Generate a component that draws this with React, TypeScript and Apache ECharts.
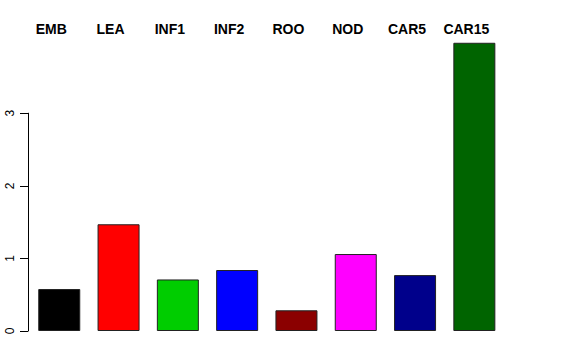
import React, { useEffect, useRef } from "react";
import * as echarts from "echarts";

const categories = ["EMB", "LEA", "INF1", "INF2", "ROO", "NOD", "CAR5", "CAR15"];
const values = [0.578, 1.47, 0.71, 0.84, 0.285, 1.06, 0.77, 3.97];
const colors = ["#000000", "#FF0000", "#00CD00", "#0000FF", "#8B0000", "#FF00FF", "#00008B", "#006400"];
const yTicks = [0, 1, 2, 3];

export default function App() {
  const ref = useRef<HTMLDivElement>(null);
  useEffect(() => {
    if (!ref.current) return;
    const chart = echarts.init(ref.current, undefined, { renderer: "svg" });
    const font = "'Liberation Sans', Arial, Helvetica, sans-serif";
    chart.setOption({
      animation: false,
      backgroundColor: "#ffffff",
      grid: [
        { left: 29.6, right: 72, top: 40.6, bottom: 29 },
        { left: 28, width: 1, top: 113.2, bottom: 29 },
      ],
      xAxis: [
        {
          type: "category",
          gridIndex: 0,
          position: "top",
          data: categories,
          axisLine: { show: false },
          axisTick: { show: false },
          axisLabel: {
            interval: 0,
            hideOverlap: false,
            margin: 5,
            fontFamily: font,
            fontWeight: "bold",
            fontSize: 14,
            color: "#000",
            padding: [0, 16, 0, 0],
          },
        },
        { type: "value", gridIndex: 1, show: false, min: 0, max: 1 },
      ],
      yAxis: [
        { type: "value", gridIndex: 0, min: 0, max: 4, show: false },
        {
          type: "value",
          gridIndex: 1,
          min: yTicks[0],
          max: yTicks[yTicks.length - 1],
          interval: 1,
          splitLine: { show: false },
          axisLine: { show: true, lineStyle: { color: "#000", width: 1 } },
          axisTick: { show: true, length: 8, lineStyle: { color: "#000" } },
          axisLabel: {
            rotate: 90,
            margin: 12,
            fontFamily: font,
            fontSize: 12,
            color: "#000",
          },
        },
      ],
      series: [
        {
          type: "bar",
          xAxisIndex: 0,
          yAxisIndex: 0,
          barWidth: 42,
          data: values.map((v, i) => ({
            value: v,
            itemStyle: { color: colors[i], borderColor: "#222", borderWidth: 1 },
          })),
        },
      ],
    });
    return () => chart.dispose();
  }, []);
  return (
    <div
      ref={ref}
      style={{ position: "fixed", left: 0, top: 0, width: 576, height: 360 }}
    />
  );
}
